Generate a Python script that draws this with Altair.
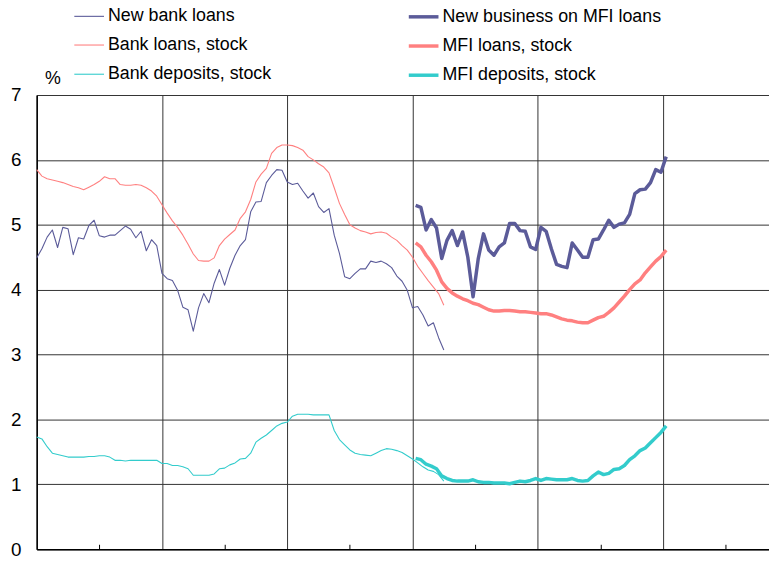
import altair as alt
import pandas as pd

# month index (0 = start of the axis); thin series monthly, thick series monthly
thin_months = list(range(0, 79))
thick_months = [m + 0.6 for m in range(72, 121)]

new_bank_loans = [
    4.49, 4.63, 4.81, 4.92, 4.65, 4.96, 4.94, 4.54, 4.80, 4.78,
    4.99, 5.07, 4.83, 4.81, 4.84, 4.84, 4.91, 4.98, 4.93, 4.80,
    4.90, 4.60, 4.77, 4.68, 4.25, 4.17, 4.14, 3.99, 3.73, 3.69,
    3.36, 3.72, 3.94, 3.80, 4.10, 4.31, 4.07, 4.33, 4.53, 4.68,
    4.77, 5.20, 5.35, 5.36, 5.65, 5.76, 5.85, 5.84, 5.66, 5.62,
    5.64, 5.52, 5.41, 5.49, 5.28, 5.19, 5.25, 4.84, 4.56, 4.20,
    4.17, 4.25, 4.32, 4.32, 4.44, 4.42, 4.44, 4.40, 4.34, 4.21,
    4.13, 3.99, 3.72, 3.74, 3.61, 3.44, 3.49, 3.26, 3.07,
]
bank_loans_stock = [
    5.85, 5.75, 5.71, 5.69, 5.67, 5.65, 5.62, 5.59, 5.57, 5.54,
    5.58, 5.62, 5.67, 5.74, 5.71, 5.71, 5.62, 5.61, 5.61, 5.62,
    5.61, 5.57, 5.52, 5.44, 5.31, 5.18, 5.06, 4.96, 4.84, 4.70,
    4.55, 4.45, 4.44, 4.44, 4.49, 4.68, 4.78, 4.85, 4.92, 5.10,
    5.20, 5.39, 5.66, 5.78, 5.87, 6.10, 6.19, 6.23, 6.23, 6.22,
    6.19, 6.15, 6.05, 6.00, 5.94, 5.89, 5.80, 5.57, 5.33, 5.16,
    5.00, 4.95, 4.91, 4.89, 4.86, 4.88, 4.89, 4.87, 4.81, 4.76,
    4.68, 4.61, 4.50, 4.36, 4.25, 4.14, 4.04, 3.94, 3.76,
]
bank_deposits_stock = [
    1.73, 1.70, 1.58, 1.48, 1.46, 1.44, 1.42, 1.42, 1.42, 1.42,
    1.43, 1.43, 1.44, 1.44, 1.42, 1.37, 1.37, 1.36, 1.37, 1.37,
    1.37, 1.37, 1.37, 1.37, 1.32, 1.32, 1.29, 1.29, 1.27, 1.24,
    1.14, 1.14, 1.14, 1.14, 1.16, 1.24, 1.25, 1.30, 1.33, 1.39,
    1.40, 1.48, 1.65, 1.71, 1.76, 1.83, 1.90, 1.94, 1.96, 2.05,
    2.08, 2.08, 2.08, 2.07, 2.07, 2.07, 2.07, 1.83, 1.69, 1.61,
    1.53, 1.48, 1.46, 1.45, 1.44, 1.48, 1.52, 1.55, 1.54, 1.52,
    1.49, 1.44, 1.39, 1.33, 1.27, 1.22, 1.20, 1.15, 1.05,
]
new_business_mfi = [
    5.30, 5.27, 4.92, 5.08, 4.95, 4.48, 4.76, 4.91, 4.68, 4.89,
    4.50, 3.89, 4.48, 4.86, 4.61, 4.53, 4.66, 4.72, 5.02, 5.02,
    4.91, 4.90, 4.66, 4.62, 4.96, 4.90, 4.63, 4.39, 4.36, 4.34,
    4.72, 4.61, 4.50, 4.50, 4.77, 4.78, 4.92, 5.07, 4.96, 5.01,
    5.03, 5.16, 5.48, 5.54, 5.55, 5.65, 5.85, 5.81, 6.05,
]
mfi_loans_stock = [
    4.72, 4.66, 4.53, 4.43, 4.30, 4.12, 4.02, 3.95, 3.90, 3.86,
    3.83, 3.79, 3.77, 3.73, 3.69, 3.67, 3.67, 3.68, 3.68, 3.67,
    3.66, 3.66, 3.65, 3.64, 3.63, 3.63, 3.61, 3.58, 3.55, 3.53,
    3.52, 3.50, 3.49, 3.49, 3.53, 3.57, 3.59, 3.65, 3.72, 3.81,
    3.90, 4.00, 4.09, 4.15, 4.26, 4.35, 4.44, 4.51, 4.61,
]
mfi_deposits_stock = [
    1.40, 1.38, 1.31, 1.28, 1.24, 1.13, 1.09, 1.06, 1.05, 1.05,
    1.05, 1.07, 1.04, 1.03, 1.03, 1.02, 1.02, 1.02, 1.01, 1.03,
    1.05, 1.04, 1.06, 1.09, 1.06, 1.09, 1.08, 1.07, 1.07, 1.07,
    1.09, 1.06, 1.05, 1.06, 1.13, 1.19, 1.15, 1.17, 1.23, 1.24,
    1.29, 1.38, 1.44, 1.52, 1.56, 1.64, 1.72, 1.80, 1.90,
]

# legend fills column by column: left column = thin series, right column = thick
series_order = [
    "New bank loans", "Bank loans, stock", "Bank deposits, stock",
    "New business on MFI loans", "MFI loans, stock", "MFI deposits, stock",
]
series_colors = ["#5B5B99", "#FF8080", "#33CCCC", "#5B5B99", "#FF8080", "#33CCCC"]
series_widths = [1.1, 1.1, 1.1, 3.5, 3.5, 3.5]

grid_months = [0, 24, 48, 72, 96, 120]
minor_months = [12, 36, 60, 84, 108, 132]
y_ticks = [0, 1, 2, 3, 4, 5, 6, 7]

rows = []
for name, xs, vals in [
    ("New bank loans", thin_months, new_bank_loans),
    ("Bank loans, stock", thin_months, bank_loans_stock),
    ("Bank deposits, stock", thin_months, bank_deposits_stock),
    ("New business on MFI loans", thick_months, new_business_mfi),
    ("MFI loans, stock", thick_months, mfi_loans_stock),
    ("MFI deposits, stock", thick_months, mfi_deposits_stock),
]:
    for x, v in zip(xs, vals):
        rows.append({"series": name, "month": x, "value": v})
df = pd.DataFrame(rows)

FONT = "Liberation Sans"
xscale = alt.Scale(domain=[0, 140.3], nice=False, zero=False)

legend = alt.Legend(
    title=None, orient="none", legendX=36, legendY=-96, columns=2,
    columnPadding=131, rowPadding=3.5, gridAlign="each",
    symbolType="stroke", symbolSize=900, labelFontSize=18, labelFont=FONT,
    labelColor="black", labelOffset=2, labelLimit=400,
)

lines = alt.Chart(df).mark_line(strokeJoin="round").encode(
    x=alt.X("month:Q", scale=xscale,
            axis=alt.Axis(values=grid_months, grid=True, gridColor="#333333",
                          gridWidth=1, labels=False, ticks=False, domain=True,
                          domainColor="black", domainWidth=1.5, title=None)),
    y=alt.Y("value:Q", scale=alt.Scale(domain=[0, 7], nice=False),
            axis=alt.Axis(values=y_ticks, format="d", grid=True, gridColor="#333333",
                          gridWidth=1, domain=True, domainColor="black",
                          domainWidth=1.5, ticks=False, labelFontSize=19,
                          labelFont=FONT, labelColor="black", labelPadding=16,
                          title="%", titleAngle=0, titleX=8, titleY=-12,
                          titleAlign="left", titleBaseline="alphabetic",
                          titleFontSize=18, titleFontWeight="normal",
                          titleFont=FONT, titleColor="black")),
    color=alt.Color("series:N", scale=alt.Scale(domain=series_order, range=series_colors),
                    legend=legend),
    strokeWidth=alt.StrokeWidth("series:N",
                                scale=alt.Scale(type="ordinal", domain=series_order,
                                                range=series_widths),
                                legend=legend),
)

minor = alt.Chart(df).mark_line(opacity=0).encode(
    x=alt.X("month:Q", scale=xscale,
            axis=alt.Axis(orient="top", offset=-459, values=minor_months,
                          ticks=True, tickSize=5, tickColor="black", tickWidth=1,
                          labels=False, domain=False, grid=False, title=None)),
    y=alt.Y("value:Q"),
    detail="series:N",
)

chart = alt.layer(lines, minor).resolve_axis(x="independent").properties(
    width=740, height=459,
    autosize=alt.AutoSizeParams(type="none"),
    padding={"left": 29, "top": 85, "right": 0, "bottom": 12},
).configure_view(strokeWidth=0).configure(font=FONT)

chart.save("out.html", embed_options={"renderer": "svg", "actions": False})
